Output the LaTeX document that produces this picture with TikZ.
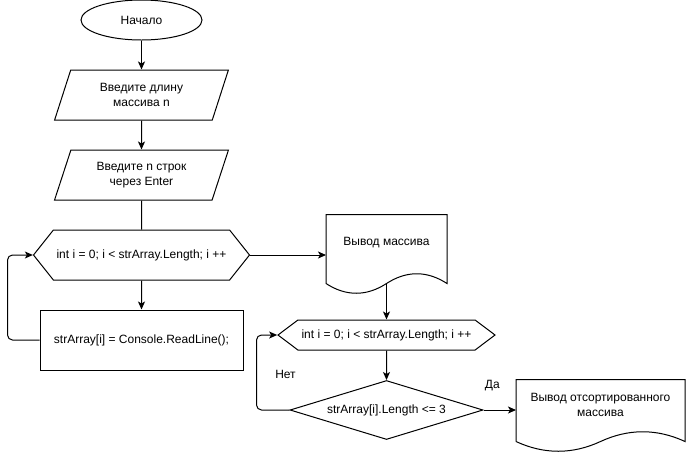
\documentclass[tikz,border=0pt]{standalone}
\usepackage{fontspec}
\setmainfont{Liberation Sans}
\usetikzlibrary{positioning,shapes.geometric,shapes.symbols,arrows.meta}
\begin{document}
\begin{tikzpicture}[x=1pt, y=1pt, line width=1pt, auto,
    >={Stealth[length=8pt,width=7pt,inset=2pt]},
    font=\fontsize{12}{15}\selectfont,
    every node/.style={inner sep=0pt, align=center},
    startstop/.style={draw, ellipse, minimum width=121pt, minimum height=40pt},
    io/.style={draw, trapezium, trapezium left angle=68, trapezium right angle=112,
      trapezium stretches=true, minimum width=174pt, minimum height=50pt},
    loopbox/.style={draw, signal, signal to=west and east},
    process/.style={draw, rectangle, minimum width=203pt, minimum height=60pt},
    decision/.style={draw, diamond, aspect=3.27, minimum width=193pt, minimum height=59pt},
    docbox/.style={rectangle}]
    \useasboundingbox (0,0) rectangle (688,-451);
    \node (start) [startstop] at (141.5,-20) {Начало};
    \node (in1) [io, node distance=75pt, below of=start] {Введите длину\\массива n};
    \node (in2) [io, node distance=80pt, below of=in1] {Введите n строк\\через Enter};
    \node (loop1) [loopbox, node distance=80pt, below of=in2, signal pointer angle=103,
      minimum width=216pt, minimum height=50pt] {int i = 0; i < strArray.Length; i ++};
    \node (body) [process, node distance=85pt, below of=loop1] {strArray[i] = Console.ReadLine();};
    \node (doc1) [docbox, node distance=245pt, right of=loop1, yshift=12pt,
      minimum width=120pt, minimum height=56pt] {Вывод массива};
    \node (loop2) [loopbox, node distance=92pt, below of=doc1, signal pointer angle=74,
      minimum width=217pt, minimum height=30pt] {int i = 0; i < strArray.Length; i ++};
    \node (cond) [decision, node distance=75pt, below of=loop2] {strArray[i].Length <= 3};
    \node (doc2) [docbox, node distance=214pt, right of=cond, yshift=5pt,
      minimum width=168pt, minimum height=50pt] {Вывод отсортированного\\массива};
    % document outlines
    \draw ([yshift=-12pt]doc1.south west) -- (doc1.north west) -- (doc1.north east)
      -- ([yshift=-12pt]doc1.south east)
      .. controls +(-20,13) and +(20,13) .. ([yshift=-12pt]doc1.south)
      .. controls +(-20,-13) and +(20,-13) .. ([yshift=-12pt]doc1.south west);
    \draw ([yshift=-11pt]doc2.south west) -- (doc2.north west) -- (doc2.north east)
      -- ([yshift=-11pt]doc2.south east)
      .. controls +(-28,13) and +(28,13) .. ([yshift=-11pt]doc2.south)
      .. controls +(-28,-13) and +(28,-13) .. ([yshift=-11pt]doc2.south west);
    \draw[->] (start) to (in1);
    \draw[->] (in1) to (in2);
    \draw (in2) to (loop1);
    \draw[->] (loop1) to (body);
    \draw[->, rounded corners=5pt] (body.west) -- ++(-32,0) |- (loop1.west);
    \draw[->] (loop1.east) to (loop1.east -| doc1.west);
    \draw[->] ([yshift=-12pt]doc1.south) to (loop2.north);
    \draw[->] (loop2) to (cond);
    \draw[->, rounded corners=5pt] (cond.west) -- ++(-33,0) node[xshift=29pt, yshift=36pt] {Нет}
      |- (loop2.west);
    \draw[->] (cond.east) to node[pos=0.27, yshift=19pt] {Да} (cond.east -| doc2.west);
  \end{tikzpicture}
\end{document}
